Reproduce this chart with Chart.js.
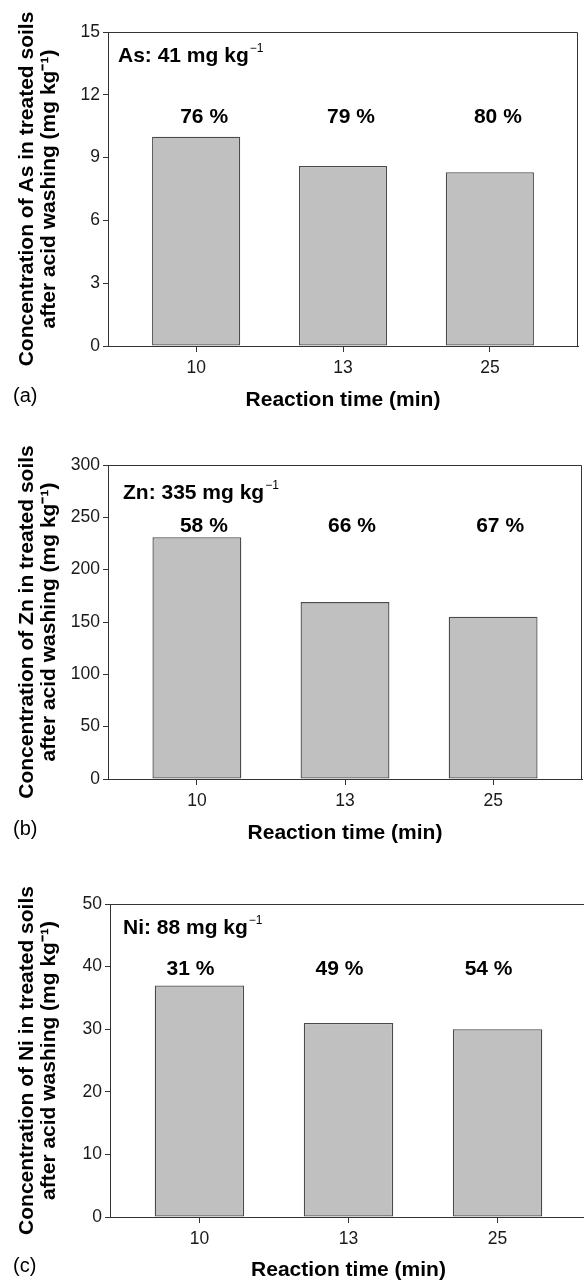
<!DOCTYPE html>
<html>
<head>
<meta charset="utf-8">
<script src="https://cdn.jsdelivr.net/npm/chart.js@4.4.1/dist/chart.umd.min.js"></script>
<style>
  html, body { margin: 0; padding: 0; background: #fff; }
  body { width: 584px; height: 1283px; overflow: hidden; position: relative; }
  .panel { position: absolute; left: 0; }
</style>
</head>
<body>
<script>
// reaction times on the x axis
const reactionTimes = ["10", "13", "25"]

// metal left in the soil after washing (mg/kg)
const asConc = [10.0, 8.6, 8.3]
const znConc = [231, 169, 155]
const niConc = [37, 31, 30]

// removal efficiency (%)
const asRemoval = [76, 79, 80]
const znRemoval = [58, 66, 67]
const niRemoval = [31, 49, 54]

// initial soil concentration (mg/kg)
const asInitial = 41
const znInitial = 335
const niInitial = 88

const asTicks = [0, 3, 6, 9, 12, 15]
const znTicks = [0, 50, 100, 150, 200, 250, 300]
const niTicks = [0, 10, 20, 30, 40, 50]

const FONT = "'Liberation Sans', Arial, Helvetica, sans-serif"
const axisColor = "#333"
const tickFont = { family: FONT, size: 17.5 }
const boldFont = { family: FONT, size: 21, weight: "bold" }

const panels = [
    { letter: "a", element: "As", initial: asInitial, conc: asConc, removal: asRemoval, yTicks: asTicks,
      top: 0, width: 584, height: 420, area: { top: 32, bottom: 346, left: 108, right: 578 },
      pctLevel: 10.93, pctShift: 8, noteDx: 10, noteDy: 30 },
    { letter: "b", element: "Zn", initial: znInitial, conc: znConc, removal: znRemoval, yTicks: znTicks,
      top: 420, width: 584, height: 433, area: { top: 465, bottom: 779, left: 108, right: 582 },
      pctLevel: 241.4, pctShift: 7, noteDx: 15, noteDy: 34 },
    { letter: "c", element: "Ni", initial: niInitial, conc: niConc, removal: niRemoval, yTicks: niTicks,
      top: 853, width: 590, height: 437, area: { top: 904, bottom: 1217, left: 110, right: 587 },
      pctLevel: 39.6, pctShift: -9, noteDx: 13, noteDy: 30 }
]

// frame, element note, removal labels and panel letter
const panelText = {
    id: "panelText",
    afterDraw(chart, args, p) {
        const ctx = chart.ctx
        const area = chart.chartArea
        const xs = chart.scales.x
        const ys = chart.scales.y
        ctx.save()

        ctx.strokeStyle = axisColor
        ctx.lineWidth = 1
        ctx.beginPath()
        ctx.moveTo(area.left, area.top + 0.5)
        ctx.lineTo(area.right - 0.5, area.top + 0.5)
        ctx.lineTo(area.right - 0.5, area.bottom)
        ctx.stroke()

        ctx.fillStyle = "#000"
        ctx.textAlign = "left"
        ctx.textBaseline = "alphabetic"
        ctx.font = `bold 21px ${FONT}`
        const note = `${p.element}: ${p.initial} mg kg`
        const nx = area.left + p.noteDx
        const ny = area.top + p.noteDy
        ctx.fillText(note, nx, ny)
        const w = ctx.measureText(note).width
        ctx.font = `12px ${FONT}`
        ctx.fillText("\u22121", nx + w + 1, ny - 10)

        ctx.font = `bold 21px ${FONT}`
        ctx.textAlign = "center"
        ctx.textBaseline = "middle"
        p.removal.forEach((r, i) => {
            ctx.fillText(`${r} %`, xs.getPixelForValue(i) + p.pctShift, ys.getPixelForValue(p.pctLevel))
        })

        ctx.font = `20px ${FONT}`
        ctx.textAlign = "left"
        ctx.fillText(`(${p.letter})`, 13, chart.height - 24)
        ctx.restore()
    }
}

function makePanel(p) {
    const wrap = document.createElement("div")
    wrap.className = "panel"
    wrap.style.top = p.top + "px"
    wrap.style.width = p.width + "px"
    wrap.style.height = p.height + "px"
    const canvas = document.createElement("canvas")
    wrap.appendChild(canvas)
    document.body.appendChild(wrap)

    const yMax = p.yTicks[p.yTicks.length - 1]

    new Chart(canvas, {
        type: "bar",
        data: {
            datasets: [{
                data: p.conc.map((v, i) => ({ x: i, y: v })),
                backgroundColor: "#c0c0c0",
                borderColor: "#4a4a4a",
                borderWidth: 1.3,
                borderSkipped: false,
                categoryPercentage: 1,
                barPercentage: 0.6
            }]
        },
        options: {
            responsive: true,
            maintainAspectRatio: false,
            animation: false,
            layout: { padding: { top: p.area.top - p.top, right: p.width - p.area.right, left: 0, bottom: 0 } },
            plugins: {
                legend: { display: false },
                tooltip: { enabled: false },
                panelText: p
            },
            scales: {
                x: {
                    type: "linear",
                    min: -0.6,
                    max: 2.6,
                    offset: false,
                    afterBuildTicks: s => { s.ticks = reactionTimes.map((t, i) => ({ value: i })) },
                    afterFit: s => { s.height = p.top + p.height - p.area.bottom },
                    ticks: { callback: v => reactionTimes[v], font: tickFont, color: "#1a1a1a", padding: 6, maxRotation: 0 },
                    grid: { drawOnChartArea: false, offset: false, tickLength: 6, color: axisColor },
                    border: { color: axisColor, width: 1 },
                    title: { display: true, text: "Reaction time (min)", font: boldFont, color: "#000", padding: { top: 0, bottom: 7 } }
                },
                y: {
                    min: 0,
                    max: yMax,
                    afterBuildTicks: s => { s.ticks = p.yTicks.map(v => ({ value: v })) },
                    afterFit: s => { s.width = p.area.left },
                    ticks: { font: tickFont, color: "#1a1a1a", padding: 3 },
                    grid: { drawOnChartArea: false, tickLength: 5, color: axisColor },
                    border: { color: axisColor, width: 1 },
                    title: {
                        display: true,
                        text: [`Concentration of ${p.element} in treated soils`, "after acid washing (mg kg\u207B\u00B9)"],
                        font: { family: FONT, size: 21, weight: "bold", lineHeight: 1.05 },
                        color: "#000",
                        padding: { top: 16, bottom: 0 }
                    }
                }
            }
        },
        plugins: [panelText]
    })
}

panels.forEach(makePanel)
</script>
</body>
</html>
